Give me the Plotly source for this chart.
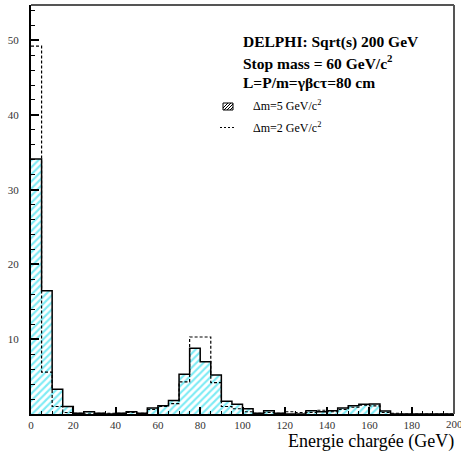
import plotly.graph_objects as go

# bin edges in GeV (5 GeV bins from 0 to 200)
bin_edges = list(range(0, 205, 5))

# Delta m = 5 GeV/c^2 (hatched histogram)
dm5_counts = [34.1, 16.5, 3.3, 1.0, 0.1, 0.3, 0.1, 0.0, 0.1, 0.3,
              0.1, 0.8, 1.1, 1.8, 5.3, 8.8, 7.0, 5.2, 1.7, 1.3,
              0.7, 0.1, 0.45, 0.1, 0.0, 0.0, 0.45, 0.3, 0.45, 0.8,
              1.1, 1.3, 1.35, 0.4, 0.0, 0.0, 0.0, 0.0, 0.0, 0.0]

# Delta m = 2 GeV/c^2 (dashed histogram)
dm2_counts = [49.2, 5.6, 1.0, 0.2, 0.1, 0.0, 0.1, 0.1, 0.1, 0.2,
              0.1, 0.6, 1.0, 1.4, 4.3, 10.3, 10.3, 4.2, 1.0, 0.7,
              0.3, 0.1, 0.2, 0.1, 0.3, 0.2, 0.2, 0.5, 0.3, 0.6,
              0.9, 1.2, 1.1, 0.2, 0.1, 0.0, 0.0, 0.0, 0.0, 0.0]

x_ticks = [0, 20, 40, 60, 80, 100, 120, 140, 160, 180, 200]
y_ticks = [10, 20, 30, 40, 50]

W, H = 461, 459
L, R, T, B = 31, 7, 5, 45
pw, ph = W - L - R, H - T - B


def px(x):
    return (x - L) / pw


def py(y):
    return (H - B - y) / ph


centers = [(a + b) / 2 for a, b in zip(bin_edges[:-1], bin_edges[1:])]
serif = "Liberation Serif, Times New Roman, serif"

fig = go.Figure()

fig.add_trace(go.Bar(
    x=centers, y=dm5_counts, width=5,
    marker=dict(color="white", line=dict(width=0),
                pattern=dict(shape="/", fgcolor="#00d8ea", bgcolor="white",
                             size=5, solidity=0.42)),
    showlegend=False, hoverinfo="skip",
))

fig.add_trace(go.Scatter(
    x=bin_edges, y=dm2_counts + [dm2_counts[-1]], mode="lines",
    line=dict(shape="hv", color="black", width=1.2, dash="3px,2px"),
    showlegend=False,
))

fig.add_trace(go.Scatter(
    x=bin_edges, y=dm5_counts + [dm5_counts[-1]], mode="lines",
    line=dict(shape="hv", color="black", width=1.5),
    showlegend=False,
))

annotations = []
for text, yc in [("<b>DELPHI: Sqrt(s) 200 GeV</b>", 42.5),
                 ("<b>Stop mass = 60 GeV/c<sup>2</sup></b>", 62.5),
                 ("<b>L=P/m=γβcτ=80 cm</b>", 82.5)]:
    annotations.append(dict(x=px(241), y=py(yc), xref="paper", yref="paper",
                            text=text, showarrow=False, xanchor="left",
                            yanchor="middle",
                            font=dict(family=serif, size=15.5, color="black")))
for text, yc in [("Δm=5 GeV/c<sup>2</sup>", 106), ("Δm=2 GeV/c<sup>2</sup>", 127)]:
    annotations.append(dict(x=px(251), y=py(yc), xref="paper", yref="paper",
                            text=text, showarrow=False, xanchor="left",
                            yanchor="middle",
                            font=dict(family=serif, size=12, color="black")))
annotations.append(dict(x=px(456), y=py(441), xref="paper", yref="paper",
                        text="Energie chargée (GeV)", showarrow=False,
                        xanchor="right", yanchor="middle",
                        font=dict(family=serif, size=18, color="black")))
# last x tick label sits over the right edge of the page
annotations.append(dict(x=x_ticks[-1], y=py(424), xref="x", yref="paper",
                        text=str(x_ticks[-1]), showarrow=False,
                        xanchor="center", yanchor="middle",
                        font=dict(family=serif, size=11, color="#333")))

shapes = [
    # top and right frame
    dict(type="line", xref="paper", yref="paper", x0=0, x1=1, y0=1, y1=1,
         line=dict(color="#555", width=2)),
    dict(type="line", xref="paper", yref="paper", x0=1, x1=1, y0=0, y1=1,
         line=dict(color="#555", width=2)),
    # legend: hatched box
    dict(type="rect", xref="paper", yref="paper", x0=px(223), x1=px(233),
         y0=py(110), y1=py(103), line=dict(color="black", width=1)),
    # legend: dashed line
    dict(type="line", xref="paper", yref="paper", x0=px(220), x1=px(234),
         y0=py(127.5), y1=py(127.5),
         line=dict(color="black", width=1, dash="2px,2px")),
]
for k in range(4):
    x0 = 221 + 3 * k
    shapes.append(dict(type="line", xref="paper", yref="paper",
                       x0=px(max(x0, 223)), y0=py(110 - (max(x0, 223) - x0)),
                       x1=px(min(x0 + 7, 233)), y1=py(103 + (x0 + 7 - min(x0 + 7, 233))),
                       line=dict(color="black", width=1)))

fig.update_layout(
    width=W, height=H,
    margin=dict(l=L, r=R, t=T, b=B, autoexpand=False),
    plot_bgcolor="white", paper_bgcolor="white",
    bargap=0, showlegend=False,
    annotations=annotations, shapes=shapes,
    xaxis=dict(range=[0, 200], tickvals=x_ticks, ticks="inside", ticklen=7,
               tickwidth=1.5, tickcolor="black", showgrid=False, zeroline=False,
               showline=True, linecolor="black", linewidth=2, automargin=False,
               tickfont=dict(family=serif, size=11, color="#333"),
               minor=dict(dtick=5, ticks="inside", ticklen=3.5, tickwidth=1,
                          tickcolor="black", showgrid=False)),
    yaxis=dict(range=[0, 54.7], tickvals=y_ticks, ticks="inside", ticklen=8,
               tickwidth=1.5, tickcolor="black", showgrid=False, zeroline=False,
               showline=True, linecolor="black", linewidth=2, automargin=False,
               ticklabelstandoff=8,
               tickfont=dict(family=serif, size=11, color="#333"),
               minor=dict(dtick=2, ticks="inside", ticklen=4, tickwidth=1,
                          tickcolor="black", showgrid=False)),
)

fig.write_html("out.html", config={"displayModeBar": False},
               post_script="document.body.style.margin='0';")
